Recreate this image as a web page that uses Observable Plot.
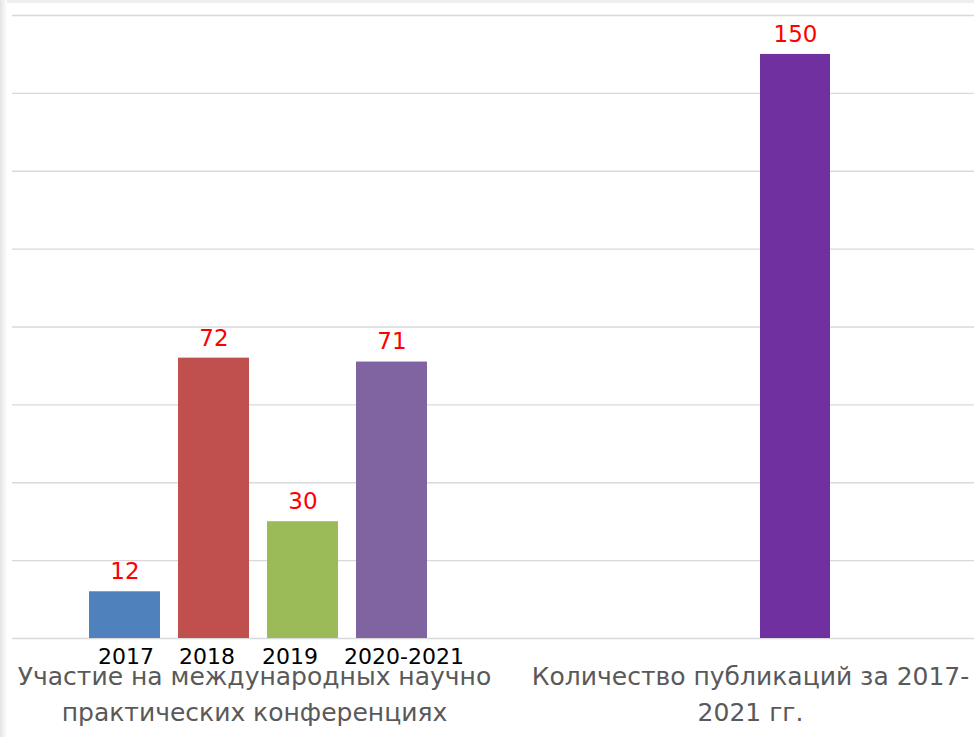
<!DOCTYPE html>
<html>
<head>
<meta charset="utf-8">
<script src="https://cdn.jsdelivr.net/npm/d3@7"></script>
<script src="https://cdn.jsdelivr.net/npm/@observablehq/plot@0.6"></script>
<style>
  html, body { margin: 0; padding: 0; background: #fff; }
  #wrap { position: relative; width: 974px; height: 737px; display: flex; overflow: hidden; }
  #shadowTop { position: absolute; left: 0; top: 0; width: 974px; height: 3px; background: #eeeeee; pointer-events: none; }
  #shadowLeft { position: absolute; left: 0; top: 0; width: 7px; height: 737px; background: linear-gradient(to right, #e4e4e4, #ffffff); pointer-events: none; }
</style>
</head>
<body>
<div id="wrap"><div id="shadowTop"></div><div id="shadowLeft"></div></div>
<script>
// ---- data ----
const years = ["2017", "2018", "2019", "2020-2021"];
const conferenceValues = [12, 72, 30, 71];
const groupLabels = [
  "Участие на международных научно\nпрактических конференциях",
  "Количество публикаций за 2017-\n2021 гг."
];
const publicationValues = [150];
const yTickValues = [0, 20, 40, 60, 80, 100, 120, 140, 160];

// ---- styles ----
const palette = ["#4F81BD", "#C0504D", "#9BBB59", "#8064A2"];
const publicationColor = "#7030A0";
const gridColor = "#D9D9D9";
const font = "DejaVu Sans";

const confData = years.map((c, i) => ({cat: c, value: conferenceValues[i]}));
const pubData = [{cat: groupLabels[1], value: publicationValues[0]}];

const common = {
  height: 737,
  marginTop: 15,
  marginBottom: 99,
  y: {domain: [0, 160], axis: null},
  style: {fontFamily: font, background: "transparent", overflow: "visible"}
};

const yearAxis = (ticks, dx) => Plot.axisX(ticks, {tickSize: 0, tickPadding: 10, fontSize: 22, fill: "#000", label: null, dx});

const left = Plot.plot({
  ...common,
  width: 487,
  marginLeft: 12,
  marginRight: 0,
  x: {domain: years, range: [89, 427.5], paddingInner: 0.205, paddingOuter: 0, label: null},
  color: {domain: years, range: palette},
  marks: [
    Plot.ruleY(yTickValues, {stroke: gridColor, strokeWidth: 1.3}),
    Plot.barY(confData, {x: "cat", y: "value", fill: "cat"}),
    Plot.text(confData, {x: "cat", y: "value", text: d => String(d.value), dy: -20, fill: "#FF0000", fontSize: 23}),
    yearAxis([years[0]], 1),
    yearAxis([years[1]], -7),
    yearAxis([years[2]], -13),
    yearAxis([years[3]], 12),
    Plot.text([groupLabels[0]], {text: d => d, frameAnchor: "bottom", dx: 4.5, dy: 53, lineAnchor: "middle", lineHeight: 1.44, fontSize: 25, fill: "#595959"})
  ]
});

const right = Plot.plot({
  ...common,
  width: 487,
  marginLeft: 0,
  marginRight: 0,
  x: {domain: [groupLabels[1]], range: [273, 343.5], paddingInner: 0, paddingOuter: 0, axis: null},
  marks: [
    Plot.ruleY(yTickValues, {stroke: gridColor, strokeWidth: 1.3}),
    Plot.barY(pubData, {x: "cat", y: "value", fill: publicationColor}),
    Plot.text(pubData, {x: "cat", y: "value", text: d => String(d.value), dy: -20, fill: "#FF0000", fontSize: 23}),
    Plot.text([groupLabels[1]], {text: d => d, frameAnchor: "bottom", dx: 19.5, dy: 53, lineAnchor: "middle", lineHeight: 1.44, fontSize: 25, fill: "#595959"})
  ]
});

const wrap = document.getElementById("wrap");
wrap.insertBefore(right, wrap.firstChild);
wrap.insertBefore(left, wrap.firstChild);
</script>
</body>
</html>
